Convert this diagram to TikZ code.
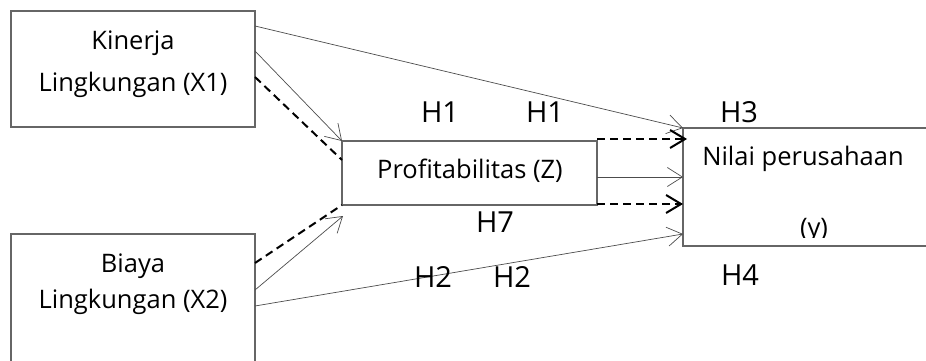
\documentclass[tikz,border=0pt]{standalone}
\usepackage{fontspec}
\setmainfont{Open Sans}
\usetikzlibrary{arrows.meta,calc}
\tikzset{
  box/.style={draw=black!60,line width=1.4pt,inner sep=0pt,outer sep=0pt},
  boxtxt/.style={inner sep=0pt,anchor=base,font=\fontsize{25.5}{30}\selectfont},
  hyp/.style={inner sep=0pt,anchor=base,font=\fontsize{29}{35}\selectfont},
  thinarrow/.style={draw=black!70,line width=0.7pt,-{Straight Barb[length=15pt,width=19pt,line width=0.7pt]}},
  dasharrow/.style={draw=black,line width=2pt,dash pattern=on 8pt off 5pt,-{Straight Barb[length=15pt,width=18pt,line width=2pt]}},
  dashline/.style={draw=black,line width=2pt,dash pattern=on 8pt off 5pt}
}
\begin{document}
\begin{tikzpicture}[x=1pt,y=-1pt]
\useasboundingbox (0,0) rectangle (926,361);
\clip (0,0) rectangle (926,361);
% boxes
\node[box,minimum width=244pt,minimum height=116pt] (k) at (133,69) {};
\node[box,minimum width=244pt,minimum height=150pt] (b) at (133,309) {};
\node[box,minimum width=255pt,minimum height=64pt] (p) at (469.5,173) {};
\node[box,minimum width=300pt,minimum height=118pt] (n) at (833,187) {};
% box texts
\node[boxtxt] (k1) at (133,49) {Kinerja};
\node[boxtxt] (k2) at (133,91) {Lingkungan (X1)};
\node[boxtxt] (b1) at (133,272) {Biaya};
\node[boxtxt] (b2) at (133,308) {Lingkungan (X2)};
\node[boxtxt] (p1) at (470,178) {Profitabilitas (Z)};
\node[boxtxt] (n1) at (803,165) {Nilai perusahaan};
\begin{scope}
\clip (780,200) rectangle (850,237);
\node[boxtxt] (n2) at (814,236) {(y)};
\end{scope}
% connectors
\draw[thinarrow] ($(k.north east)+(0,15)$) -- (n.north west);
\draw[thinarrow] ($(k.north east)+(0,40)$) -- (p.north west);
\draw[dashline] ($(k.north east)+(0,66)$) -- ($(p.north west)+(0,19)$);
\draw[dashline] ($(b.north east)+(0,29)$) -- (p.south west);
\draw[thinarrow] ($(b.north east)+(0,56)$) -- ($(p.south west)+(1,11)$);
\draw[thinarrow] ($(b.north east)+(0,72)$) -- ($(n.north west)+(0,106)$);
\draw[dasharrow] ($(p.north east)+(0,-2)$) -- ($(n.north west)+(4,11)$);
\draw[thinarrow] ($(p.north east)+(0,36)$) -- ($(n.north west)+(0,49)$);
\draw[dasharrow] ($(p.north east)+(0,63)$) -- ($(n.north west)+(0,76)$);
% hypothesis labels
\node[hyp] (h1a) at (440,122) {H1};
\node[hyp] (h1b) at (545,122) {H1};
\node[hyp] (h3) at (739,122) {H3};
\node[hyp] (h7) at (495,232) {H7};
\node[hyp] (h2a) at (433,287) {H2};
\node[hyp] (h2b) at (512,287) {H2};
\node[hyp] (h4) at (740,285) {H4};
\end{tikzpicture}
\end{document}
